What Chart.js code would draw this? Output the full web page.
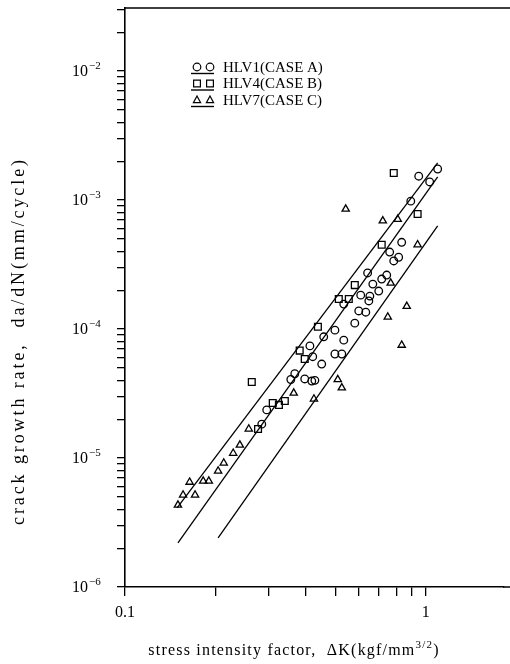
<!DOCTYPE html>
<html>
<head>
<meta charset="utf-8">
<script src="https://cdn.jsdelivr.net/npm/chart.js@4/dist/chart.umd.min.js"></script>
<style>
  html, body { margin: 0; padding: 0; background: #fff; overflow: hidden; }
  #crackChart { display: block; width: 510px; height: 664px; }
</style>
</head>
<body>
<canvas id="crackChart" width="510" height="664"></canvas>
<script>
// --- data (ΔK in kgf/mm^3/2, da/dN in mm/cycle) ---
const hlv1K = [1.096, 0.948, 1.031, 0.892, 0.832, 0.759, 0.813, 0.783, 0.641, 0.742, 0.714, 0.667, 0.698, 0.608, 0.652, 0.534, 0.647, 0.599, 0.632, 0.581, 0.499, 0.534, 0.499, 0.526, 0.412, 0.421, 0.451, 0.458, 0.367, 0.356, 0.396, 0.418, 0.428, 0.296, 0.285];
const hlv1Rate = [1.74e-3, 1.53e-3, 1.38e-3, 9.8e-4, 4.7e-4, 3.95e-4, 3.6e-4, 3.37e-4, 2.72e-4, 2.62e-4, 2.44e-4, 2.23e-4, 1.97e-4, 1.83e-4, 1.80e-4, 1.56e-4, 1.65e-4, 1.38e-4, 1.35e-4, 1.11e-4, 9.8e-5, 8.2e-5, 6.4e-5, 6.4e-5, 7.4e-5, 6.1e-5, 5.35e-5, 8.7e-5, 4.5e-5, 4.06e-5, 4.1e-5, 3.95e-5, 4.0e-5, 2.36e-5, 1.83e-5];

const hlv4K = [0.783, 0.940, 0.714, 0.581, 0.514, 0.555, 0.438, 0.381, 0.396, 0.264, 0.310, 0.325, 0.340, 0.277];
const hlv4Rate = [1.62e-3, 7.8e-4, 4.5e-4, 2.19e-4, 1.71e-4, 1.71e-4, 1.04e-4, 6.8e-5, 5.85e-5, 3.88e-5, 2.67e-5, 2.58e-5, 2.77e-5, 1.68e-5];

const hlv7K = [0.150, 0.156, 0.164, 0.171, 0.182, 0.190, 0.204, 0.213, 0.229, 0.241, 0.258, 0.364, 0.425, 0.510, 0.526, 0.765, 0.748, 0.865, 0.832, 0.940, 0.807, 0.720, 0.542];
const hlv7Rate = [4.32e-6, 5.17e-6, 6.5e-6, 5.17e-6, 6.63e-6, 6.63e-6, 7.93e-6, 9.15e-6, 1.09e-5, 1.26e-5, 1.68e-5, 3.19e-5, 2.87e-5, 4.06e-5, 3.5e-5, 2.27e-4, 1.24e-4, 1.5e-4, 7.5e-5, 4.5e-4, 7.1e-4, 6.9e-4, 8.5e-4];

// fitted lines (end points)
const fitAK = [0.149, 1.096];
const fitARate = [4.1e-6, 1.94e-3];
const fitBK = [0.150, 1.096];
const fitBRate = [2.2e-6, 1.51e-3];
const fitCK = [0.204, 1.096];
const fitCRate = [2.4e-6, 6.3e-4];

const legendLabels = ['HLV1(CASE A)', 'HLV4(CASE B)', 'HLV7(CASE C)'];
const legendStyles = ['circle', 'rect', 'triangle'];

const xMin = 0.1, xMax = 1.82;
const yMin = 1e-6, yMax = 0.0308;
const xTickValues = [0.1, 0.2, 0.3, 0.4, 0.5, 0.6, 0.7, 0.8, 0.9, 1];
const xLabelValues = [0.1, 1];
const xLabelTexts = ['0.1', '1'];
const yLabelValues = [1e-6, 1e-5, 1e-4, 1e-3, 1e-2];
const yLabelExps = ['\u22126', '\u22125', '\u22124', '\u22123', '\u22122'];
const yTickValues = [];
yLabelValues.forEach(d => {
    for (let m = 1; m <= 9; m++) {
        const v = m * d;
        if (v <= yMax) yTickValues.push(v);
    }
});

const SERIF = '"Liberation Serif", "DejaVu Serif", serif';

const pts = (xs, ys) => xs.map((x, i) => ({ x: x, y: ys[i] }));

function drawSymbol(ctx, style, x, y) {
    ctx.beginPath();
    if (style === 'circle') {
        ctx.arc(x, y, 3.8, 0, Math.PI * 2);
    } else if (style === 'rect') {
        ctx.rect(x - 3.4, y - 3.4, 6.8, 6.8);
    } else {
        ctx.moveTo(x, y - 4);
        ctx.lineTo(x + 3.6, y + 2.6);
        ctx.lineTo(x - 3.6, y + 2.6);
        ctx.closePath();
    }
    ctx.stroke();
}

// labels, titles, legend and frame lines
const decorPlugin = {
    id: 'decor',
    afterDraw(chart) {
        const { ctx, chartArea, scales } = chart;
        const xs = scales.x, ys = scales.y;
        ctx.save();
        ctx.fillStyle = '#000';
        ctx.strokeStyle = '#000';

        // top frame line, and bottom axis running on to the page edge
        ctx.lineWidth = 1.6;
        ctx.beginPath();
        ctx.moveTo(chartArea.left, chartArea.top);
        ctx.lineTo(chart.width, chartArea.top);
        ctx.moveTo(chartArea.right - 1, chartArea.bottom);
        ctx.lineTo(chart.width, chartArea.bottom);
        ctx.stroke();

        // y tick labels 10^n
        ctx.textBaseline = 'middle';
        yLabelValues.forEach((v, i) => {
            const py = ys.getPixelForValue(v);
            ctx.font = '16px ' + SERIF;
            ctx.textAlign = 'right';
            ctx.fillText('10', 88, py + 1);
            ctx.font = '11px ' + SERIF;
            ctx.textAlign = 'left';
            ctx.fillText(yLabelExps[i], 89, py - 5);
        });

        // x tick labels
        ctx.font = '16px ' + SERIF;
        ctx.textAlign = 'center';
        xLabelValues.forEach((v, i) => {
            ctx.fillText(xLabelTexts[i], xs.getPixelForValue(v), 613);
        });

        // x title with superscript
        const xt1 = 'stress intensity factor,  \u0394K(kgf/mm';
        const xt2 = '3/2';
        const xt3 = ')';
        ctx.letterSpacing = '1.2px';
        ctx.font = '16px ' + SERIF;
        const w1 = ctx.measureText(xt1).width;
        const w3 = ctx.measureText(xt3).width;
        ctx.font = '11px ' + SERIF;
        const w2 = ctx.measureText(xt2).width;
        let sx = 294 - (w1 + w2 + w3) / 2;
        ctx.textAlign = 'left';
        ctx.font = '16px ' + SERIF;
        ctx.fillText(xt1, sx, 651);
        ctx.font = '11px ' + SERIF;
        ctx.fillText(xt2, sx + w1, 645);
        ctx.font = '16px ' + SERIF;
        ctx.fillText(xt3, sx + w1 + w2, 651);

        // y title
        ctx.save();
        ctx.translate(19, 341);
        ctx.rotate(-Math.PI / 2);
        ctx.letterSpacing = '2.9px';
        ctx.font = '18px ' + SERIF;
        ctx.textAlign = 'center';
        ctx.fillText('crack growth rate,  da/dN(mm/cycle)', 0, 0);
        ctx.restore();
        ctx.letterSpacing = '0px';

        // legend
        ctx.lineWidth = 1.2;
        legendLabels.forEach((lab, i) => {
            const ry = 68 + i * 16.5;
            drawSymbol(ctx, legendStyles[i], 197, ry - 1);
            drawSymbol(ctx, legendStyles[i], 210, ry - 1);
            ctx.lineWidth = 1.4;
            ctx.beginPath();
            ctx.moveTo(191, ry + 5.5);
            ctx.lineTo(214, ry + 5.5);
            ctx.stroke();
            ctx.lineWidth = 1.2;
            ctx.font = '15px ' + SERIF;
            ctx.textAlign = 'left';
            ctx.fillText(lab, 223, ry);
        });
        ctx.restore();
    }
};

const markerBase = {
    showLine: false,
    borderColor: '#000',
    backgroundColor: 'rgba(0,0,0,0)',
    borderWidth: 1.3,
    pointHoverRadius: 4
};
const lineBase = {
    showLine: true,
    borderColor: '#000',
    borderWidth: 1.3,
    pointRadius: 0,
    fill: false
};

const ctx = document.getElementById('crackChart').getContext('2d');
new Chart(ctx, {
    type: 'scatter',
    data: {
        datasets: [
            Object.assign({ label: 'fit A', data: pts(fitAK, fitARate) }, lineBase),
            Object.assign({ label: 'fit B', data: pts(fitBK, fitBRate) }, lineBase),
            Object.assign({ label: 'fit C', data: pts(fitCK, fitCRate) }, lineBase),
            Object.assign({ label: legendLabels[0], data: pts(hlv1K, hlv1Rate), pointStyle: 'circle', pointRadius: 3.8 }, markerBase),
            Object.assign({ label: legendLabels[1], data: pts(hlv4K, hlv4Rate), pointStyle: 'rect', pointRadius: 4.8 }, markerBase),
            Object.assign({ label: legendLabels[2], data: pts(hlv7K, hlv7Rate), pointStyle: 'triangle', pointRadius: 4.2 }, markerBase)
        ]
    },
    options: {
        responsive: false,
        animation: false,
        devicePixelRatio: 1,
        layout: { padding: { top: 8, right: 0, left: 0, bottom: 0 } },
        plugins: { legend: { display: false }, tooltip: { enabled: false } },
        scales: {
            x: {
                type: 'logarithmic',
                min: xMin,
                max: xMax,
                afterBuildTicks: s => { s.ticks = xTickValues.map(v => ({ value: v })); },
                afterFit: s => { s.height = 77; s.paddingLeft = 0; s.paddingRight = 0; },
                ticks: { autoSkip: false, callback: () => '', padding: 0 },
                grid: { drawOnChartArea: false, drawTicks: true, tickLength: 9, color: '#000', lineWidth: 1.3 },
                border: { display: true, color: '#000', width: 1.6 }
            },
            y: {
                type: 'logarithmic',
                min: yMin,
                max: yMax,
                afterBuildTicks: s => { s.ticks = yTickValues.map(v => ({ value: v })); },
                afterFit: s => { s.width = 125; s.paddingTop = 0; s.paddingBottom = 0; },
                ticks: { autoSkip: false, callback: () => '', padding: 0 },
                grid: { drawOnChartArea: false, drawTicks: true, tickLength: 8, color: '#000', lineWidth: 1.3 },
                border: { display: true, color: '#000', width: 1.6 }
            }
        }
    },
    plugins: [decorPlugin]
});
</script>
</body>
</html>
